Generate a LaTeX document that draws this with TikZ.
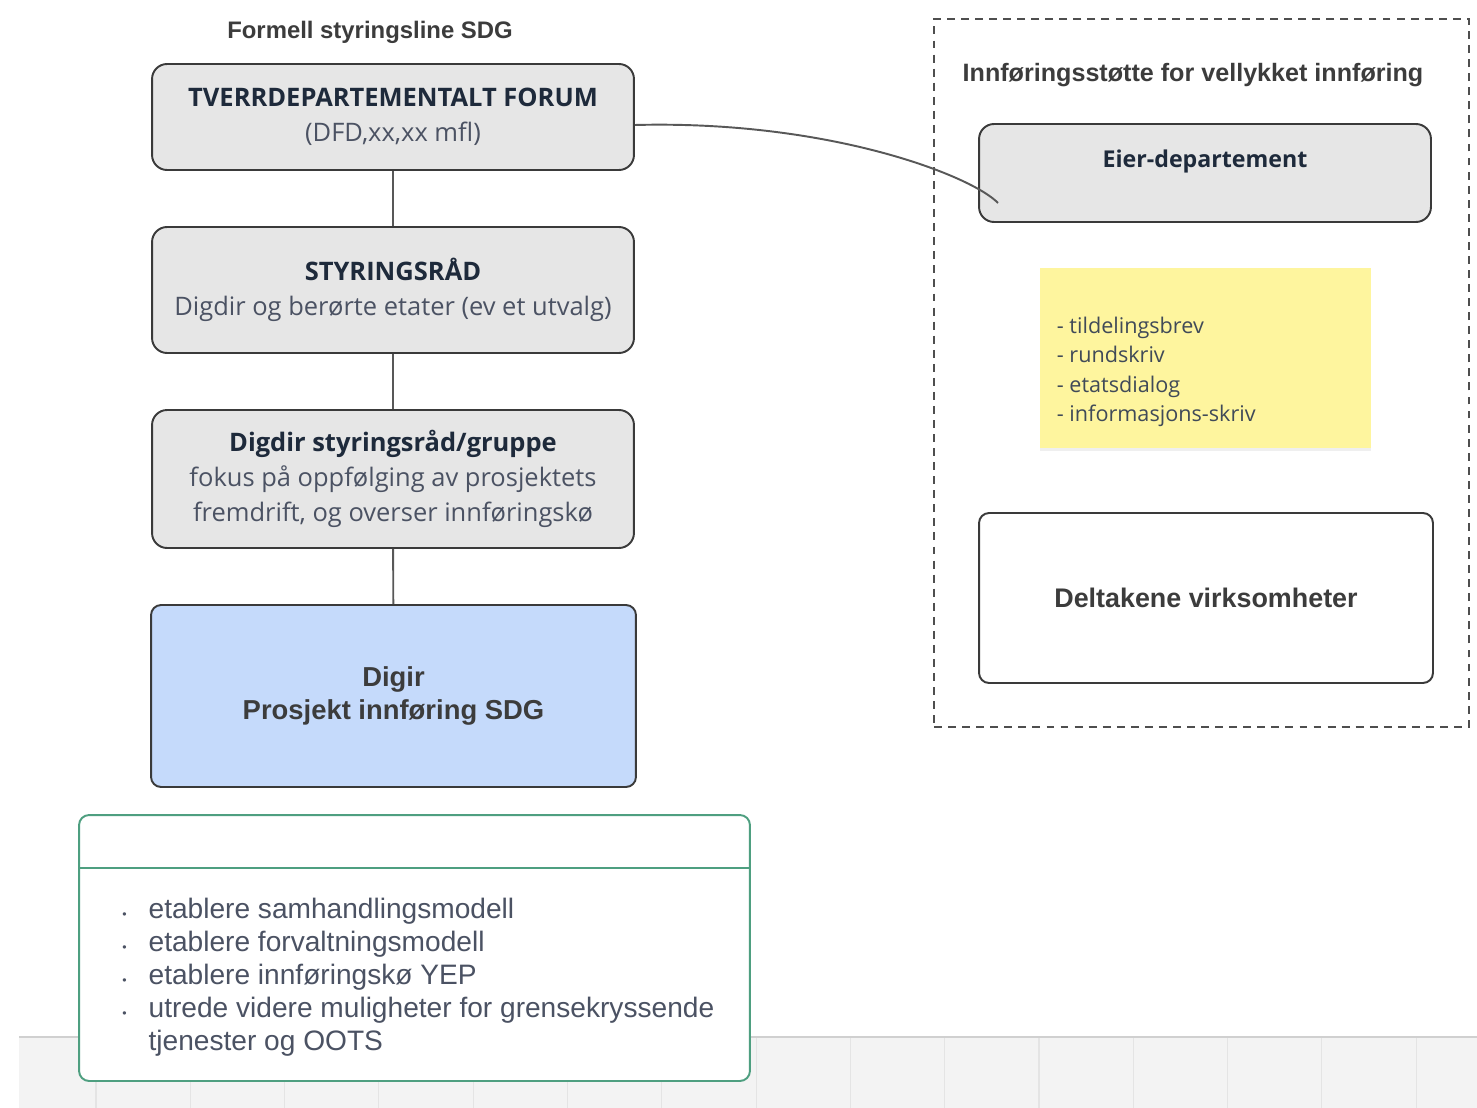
\documentclass[tikz,border=0pt]{standalone}
\usepackage{fontspec}
\setmainfont{Open Sans}
\newfontfamily\headfont{Liberation Sans}
\usetikzlibrary{arrows.meta,shadows}
\definecolor{boxgray}{HTML}{E6E6E6}
\definecolor{linegray}{HTML}{3A3A3A}
\definecolor{navy}{HTML}{1E2A3B}
\definecolor{subgray}{HTML}{4B5263}
\definecolor{headgray}{HTML}{3C3C3C}
\definecolor{projblue}{HTML}{C5DAFB}
\definecolor{stickyyellow}{HTML}{FEF59E}
\definecolor{listgreen}{HTML}{4E9F80}
\definecolor{gridbg}{HTML}{F3F3F3}
\definecolor{gridline}{HTML}{E4E4E4}
\tikzset{
    every node/.style={align=center,},
    panel/.style={draw=linegray,line width=1.1pt,fill=boxgray,rounded corners=0.3cm,minimum width=9.64cm,text=navy,font=\fontsize{14.5pt}{20pt}\selectfont},
    heading/.style={font=\headfont\bfseries\fontsize{13.6pt}{15pt}\selectfont,text=headgray},
    link/.style={draw=linegray!85,line width=1.1pt},
}

\begin{document}
\begin{tikzpicture}[x=0.02cm,y=-0.02cm]
    \useasboundingbox[fill=white] (0,0) rectangle (1477,1108);
    % grid at the bottom
    \fill[gridbg] (19,1037) rectangle (1477,1108);
    \foreach \i in {0,...,14}
        \draw[gridline,line width=0.6pt] (96+94.3*\i,1037) -- (96+94.3*\i,1108);
    \draw[gridline!80!gray,line width=0.6pt] (19,1037) -- (1477,1037);

    % left column
    \node[heading] (styringsline) at (370,32) {Formell styringsline SDG};
    \node[panel,minimum height=2.12cm] (forum) at (393,117) {\textbf{TVERRDEPARTEMENTALT FORUM}\\{\color{subgray}(DFD,xx,xx mfl)}};
    \node[panel,minimum height=2.52cm] (styringsraad) at (393,290) {\textbf{STYRINGSRÅD}\\{\color{subgray}Digdir og berørte etater (ev et utvalg)}};
    \node[panel,minimum height=2.76cm] (digdir_gruppe) at (393,479) {\textbf{Digdir styringsråd/gruppe}\\{\color{subgray}fokus på oppfølging av prosjektets}\\{\color{subgray}fremdrift, og overser innføringskø}};
    \node[panel,fill=projblue,rounded corners=0.2cm,minimum width=9.7cm,minimum height=3.64cm,text=headgray,font=\headfont\bfseries\fontsize{15.6pt}{18.5pt}\selectfont] (prosjekt) at (393.5,696) {Digir\\Prosjekt innføring SDG};

    \draw[link] (forum) -- (styringsraad);
    \draw[link] (styringsraad) -- (digdir_gruppe);
    \draw[link] (digdir_gruppe) -- (prosjekt);

    % task list
    \node[draw=listgreen,line width=1.1pt,fill=white,rounded corners=0.2cm,minimum width=13.42cm,minimum height=5.32cm] (oppgaver) at (414.5,948) {};
    \coordinate (skille) at (0,868);
    \draw[listgreen,line width=1.1pt] (oppgaver.west |- skille) -- (oppgaver.east |- skille);
    \node[anchor=north west,inner sep=0pt,text=subgray,font=\headfont\fontsize{16pt}{18.8pt}\selectfont] (oppgave_liste) at (122,895)
        {\begin{tabular}{@{}l@{\hspace{12.5pt}}l@{}}
        {\fontsize{7pt}{7pt}\selectfont\textbullet} & etablere samhandlingsmodell\\
        {\fontsize{7pt}{7pt}\selectfont\textbullet} & etablere forvaltningsmodell\\
        {\fontsize{7pt}{7pt}\selectfont\textbullet} & etablere innføringskø YEP\\
        {\fontsize{7pt}{7pt}\selectfont\textbullet} & utrede videre muligheter for grensekryssende\\
        & tjenester og OOTS
        \end{tabular}};

    % right column
    \node[draw=linegray!90,dash pattern=on 4.5pt off 3.5pt,line width=1.1pt,minimum width=10.7cm,minimum height=14.16cm] (stotte) at (1201.5,373) {};
    \node[heading,font=\headfont\bfseries\fontsize{14.3pt}{16pt}\selectfont] (stotte_tittel) at (1193,75) {Innføringsstøtte for vellykket innføring};
    \node[panel,minimum width=9.04cm,minimum height=1.96cm,
        label={[anchor=north,yshift=-0.42cm,text=navy,font=\bfseries\fontsize{13.2pt}{15pt}\selectfont]north:Eier-departement}] (eier) at (1205,173) {};
    \node[fill=stickyyellow,minimum width=6.62cm,minimum height=3.6cm,
        drop shadow={opacity=0.12,shadow xshift=0pt,shadow yshift=-2pt},
        label={[anchor=west,xshift=0.22cm,yshift=-0.28cm,align=left,text=navy!85,font=\fontsize{12.3pt}{16.7pt}\selectfont]west:- tildelingsbrev\\- rundskriv\\- etatsdialog\\- informasjons-skriv}] (notat) at (1205.5,358) {};
    \node[draw=linegray,line width=1.1pt,fill=white,rounded corners=0.2cm,minimum width=9.08cm,minimum height=3.4cm,text=headgray,font=\headfont\bfseries\fontsize{15.3pt}{16pt}\selectfont] (deltakere) at (1206,598) {Deltakene virksomheter};

    \coordinate (eier_inn) at (998,203);
    \draw[link] ([yshift=-0.16cm]forum.east) .. controls (830,120) and (972,176) .. (eier_inn);
\end{tikzpicture}
\end{document}
